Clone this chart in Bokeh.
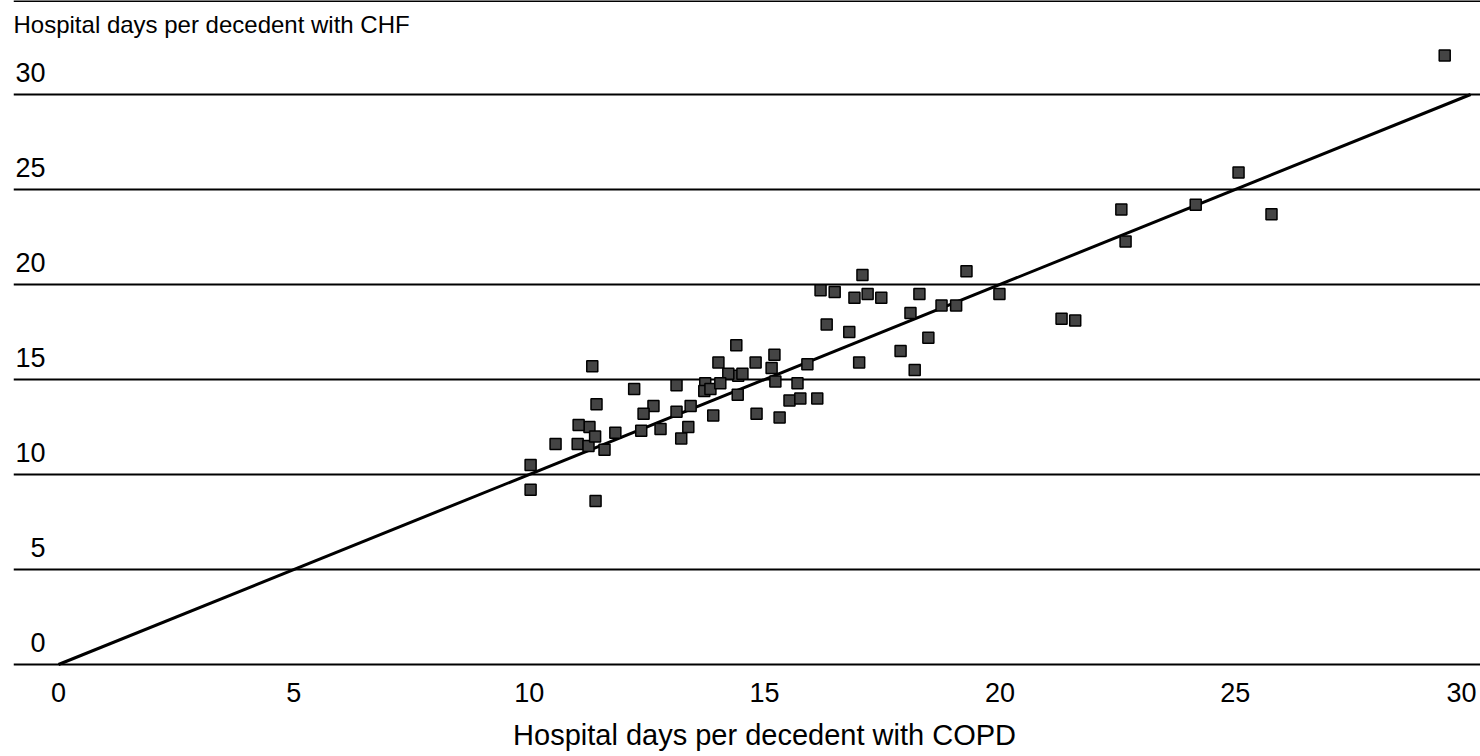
from bokeh.plotting import figure
from bokeh.models import FixedTicker, Range1d, Span
from bokeh.core.properties import value
from bokeh.embed import file_html
from bokeh.resources import INLINE

# Hospital days per decedent (COPD on x, CHF on y)
copd = [29.45, 25.07, 24.16, 25.77, 22.58, 22.67, 21.31, 21.60, 19.29, 19.99,
        18.76, 19.07, 18.29, 18.10, 18.48, 17.89, 18.19, 17.08, 16.91, 17.19,
        17.48, 16.19, 16.49, 16.32, 16.80, 17.01, 15.91, 15.21, 15.70, 15.53,
        15.76, 16.12, 15.32, 14.83, 15.15, 15.23, 14.81, 14.40, 14.02, 14.44,
        14.43, 13.91, 14.23, 13.74, 13.72, 13.85, 14.06, 13.13, 13.43, 13.13,
        13.38, 13.23, 12.79, 12.64, 12.43, 12.38, 12.23, 11.83, 11.60, 11.43,
        11.34, 11.28, 11.05, 11.03, 11.26, 11.40, 11.41, 10.56, 10.03, 10.03,
        14.53]
chf = [32.05, 25.90, 24.20, 23.70, 23.95, 22.26, 18.20, 18.10, 20.70, 19.50,
       18.90, 18.90, 19.50, 18.50, 17.20, 16.50, 15.50, 20.50, 19.30, 19.50,
       19.30, 19.70, 19.60, 17.90, 17.50, 15.90, 15.80, 16.30, 14.80, 13.90,
       14.00, 14.00, 13.00, 13.20, 15.60, 14.90, 15.90, 16.80, 15.90, 15.20,
       14.20, 13.10, 15.30, 14.80, 14.40, 14.50, 14.80, 14.70, 13.60, 13.30,
       12.50, 11.90, 12.40, 13.60, 13.20, 12.30, 14.50, 12.20, 11.30, 13.70,
       15.70, 12.50, 12.60, 11.60, 11.50, 12.00, 8.60, 11.60, 10.50, 9.20,
       15.30]

fit_x = [0, 30]
fit_y = [0, 30]

y_ticks = [0, 5, 10, 15, 20, 25, 30]
y_labels = ["0", "5", "10", "15", "20", "25", "30"]
x_ticks = [0, 5, 10, 15, 20, 25, 30]
x_labels = ["0", "5", "10", "15", "20", "25", "30"]

x_title = "Hospital days per decedent with COPD"
y_title = "Hospital days per decedent with CHF"

FONT = "Liberation Sans"

W, H = 1480, 756
left = 13
zero_px = 664          # canvas row of y = 0
px_per_x = 47.07
px_per_y = 19.0
x0_px = 58
x_start = -(x0_px - left) / px_per_x
x_end = x_start + (W - left) / px_per_x
y_start = -(H - zero_px) / px_per_y
y_end = zero_px / px_per_y

p = figure(width=W, height=H, output_backend="svg", toolbar_location=None,
           x_range=Range1d(x_start, x_end), y_range=Range1d(y_start, y_end),
           min_border_left=left, min_border_right=0, min_border_top=0,
           min_border_bottom=0)
p.outline_line_color = None
p.background_fill_color = "white"
p.border_fill_color = "white"

p.xaxis.visible = False
p.yaxis.visible = False
p.xgrid.visible = False
p.ygrid.ticker = FixedTicker(ticks=y_ticks)
p.ygrid.grid_line_color = "black"
p.ygrid.grid_line_width = 2

p.add_layout(Span(location=y_end, dimension="width", line_color="black", line_width=3))

# x tick labels below the zero line (last one nudged in from the right edge)
x_label_shift = [0] * (len(x_ticks) - 1) + [-9]
p.text(x=x_ticks, y=[0] * len(x_ticks), text=x_labels,
       x_offset=x_label_shift, y_offset=28, text_align="center", text_baseline="middle",
       text_font=value(FONT), text_font_size="27px", text_color="black")

# x axis title, centred on the data span
p.text(x=[(x_ticks[0] + x_ticks[-1]) / 2], y=[0], text=[x_title],
       y_offset=70, text_align="center", text_baseline="middle",
       text_font=value(FONT), text_font_size="29px", text_color="black")

# y tick labels sitting above the gridlines
p.text(x=[x_start] * len(y_ticks), y=y_ticks, text=y_labels,
       x_offset=32, y_offset=-13, text_align="right", text_baseline="bottom",
       text_font=value(FONT), text_font_size="27px", text_color="black")

# y axis title at top-left
p.text(x=[x_start], y=[y_end], text=[y_title], x_offset=0, y_offset=10,
       text_align="left", text_baseline="top",
       text_font=value(FONT), text_font_size="24px", text_color="black")

p.line(fit_x, fit_y, line_color="black", line_width=3)

p.scatter(copd, chf, marker="square", size=11, fill_color="#444444",
          line_color="black", line_width=1.5)

open("out.html", "w").write(file_html(p, INLINE))
